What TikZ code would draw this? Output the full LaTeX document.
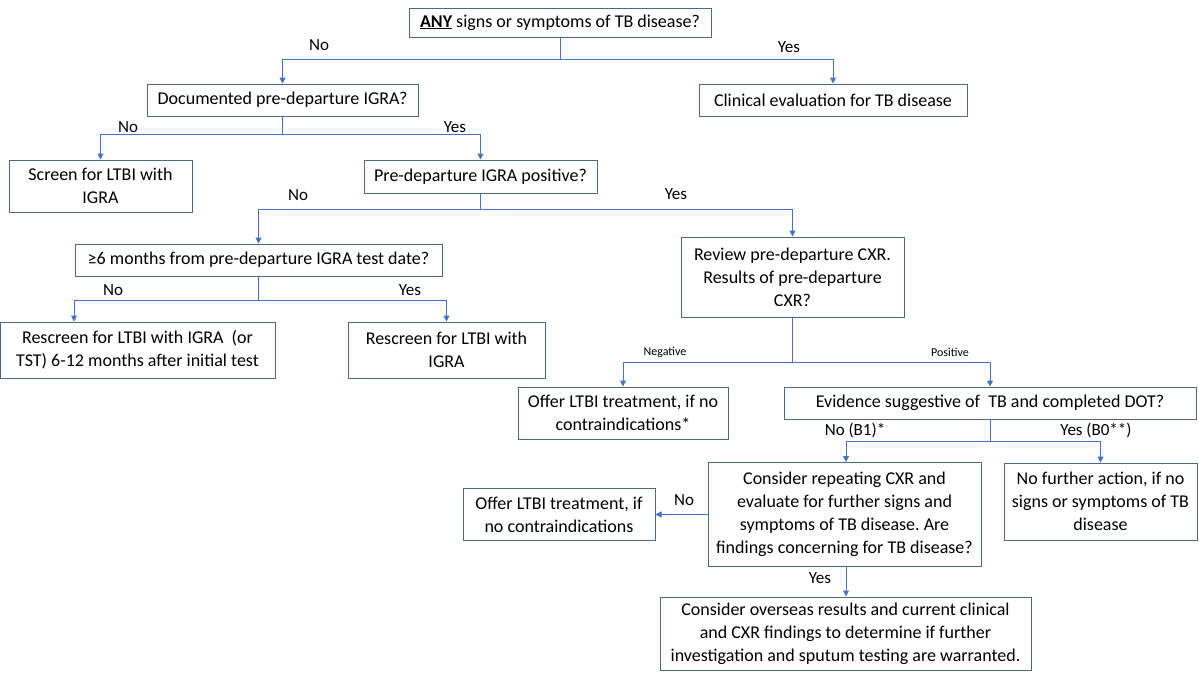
\documentclass[tikz,border=0pt]{standalone}
\usepackage{fontspec}
\setmainfont{Carlito}
\usetikzlibrary{arrows.meta}
\definecolor{boxline}{RGB}{72,106,146}
\definecolor{linkblue}{RGB}{68,114,196}
\frenchspacing

\begin{document}
\begin{tikzpicture}[x=1pt,y=-1pt,
    box/.style={draw=boxline,line width=1pt,align=center,inner sep=0pt,font=\fontsize{18}{23}\selectfont},
    arr/.style={-{Triangle[length=6pt,width=6pt]},line width=1pt,linkblue},
    lbl/.style={inner sep=0pt,font=\fontsize{17}{20}\selectfont},
    tag/.style={inner sep=0pt,font=\fontsize{12}{14}\selectfont}]
  \useasboundingbox[fill=white] (0,0) rectangle (1199,675);
  % question boxes
  \node[box,minimum width=302pt,minimum height=29pt] (any) at (560,22.5) {\textbf{\underline{ANY}} signs or symptoms of TB disease?};
  \node[box,minimum width=271pt,minimum height=32pt] (doc) at (282.5,100) {Documented pre-departure IGRA?};
  \node[box,minimum width=268pt,minimum height=32pt] (clin) at (833,100) {Clinical evaluation for TB disease};
  \node[box,minimum width=183pt,minimum height=52pt] (screen) at (100.5,186) {Screen for LTBI with\\IGRA};
  \node[box,minimum width=233pt,minimum height=33pt] (pos) at (480.5,176.5) {Pre-departure IGRA positive?};
  \node[box,minimum width=367pt,minimum height=32pt] (six) at (258.5,260) {≥6 months from pre-departure IGRA test date?};
  \node[box,minimum width=223pt,minimum height=80pt] (review) at (792.5,277) {Review pre-departure CXR.\\Results of pre-departure\\CXR?};
  \node[box,minimum width=275pt,minimum height=56pt] (rescrA) at (137.5,350) {Rescreen for LTBI with IGRA \ (or\\TST) 6-12 months after initial test};
  \node[box,minimum width=197pt,minimum height=56pt] (rescrB) at (446.5,350) {Rescreen for LTBI with\\IGRA};
  \node[box,minimum width=210pt,minimum height=52pt] (offerA) at (623,413) {Offer LTBI treatment, if no\\contraindications*};
  \node[box,minimum width=412pt,minimum height=32pt] (evid) at (990,403) {Evidence suggestive of \ TB and completed DOT?};
  \node[box,minimum width=273pt,minimum height=104pt] (repeat) at (844.5,514.5) {Consider repeating CXR and\\evaluate for further signs and\\symptoms of TB disease. Are\\findings concerning for TB disease?};
  \node[box,minimum width=192pt,minimum height=52pt] (offerB) at (559,514.5) {Offer LTBI treatment, if\\no contraindications};
  \node[box,minimum width=193pt,minimum height=77pt] (nofur) at (1100.5,501.5) {No further action, if no\\signs or symptoms of TB\\disease};
  \node[box,minimum width=371pt,minimum height=73pt] (oversea) at (845.5,633.5) {Consider overseas results and current clinical\\and CXR findings to determine if further\\investigation and sputum testing are warranted.};
  % connectors
  \draw[arr] (any.south) -- ++(0,22) -| (doc.north);
  \draw[arr] (any.south) -- ++(0,22) -| (clin.north);
  \draw[arr] (doc.south) -- ++(0,18) -| (screen.north);
  \draw[arr] (doc.south) -- ++(0,18) -| (pos.north);
  \draw[arr] (pos.south) -- ++(0,16) -| (six.north);
  \draw[arr] (pos.south) -- ++(0,16) -| (review.north);
  \draw[arr] (six.south) -- ++(0,24) -| ([xshift=-63.5pt]rescrA.north);
  \draw[arr] (six.south) -- ++(0,24) -| (rescrB.north);
  \draw[arr] (review.south) -- ++(0,45) -| (offerA.north);
  \draw[arr] (review.south) -- ++(0,45) -| (evid.north);
  \draw[arr] (evid.south) -- ++(0,22) -| ([xshift=1.5pt]repeat.north);
  \draw[arr] (evid.south) -- ++(0,22) -| (nofur.north);
  \draw[arr] (repeat.west) -- (offerB.east);
  \draw[arr] ([xshift=1.5pt]repeat.south) -- ([xshift=0.5pt]oversea.north);
  % branch labels
  \node[lbl] (noA) at (319,45) {No};
  \node[lbl] (yesA) at (789,47) {Yes};
  \node[lbl] (noB) at (128,127) {No};
  \node[lbl] (yesB) at (455,127) {Yes};
  \node[lbl] (noC) at (298,195) {No};
  \node[lbl] (yesC) at (676,194) {Yes};
  \node[lbl] (noD) at (113,290) {No};
  \node[lbl] (yesD) at (410,290) {Yes};
  \node[tag] (neg) at (665,352) {Negative};
  \node[tag] (posi) at (950,352) {Positive};
  \node[lbl] (noE) at (855,430) {No (B1)*};
  \node[lbl] (yesE) at (1096,430) {Yes (B0**)};
  \node[lbl] (noF) at (684,500) {No};
  \node[lbl] (yesF) at (820,578) {Yes};
\end{tikzpicture}
\end{document}
